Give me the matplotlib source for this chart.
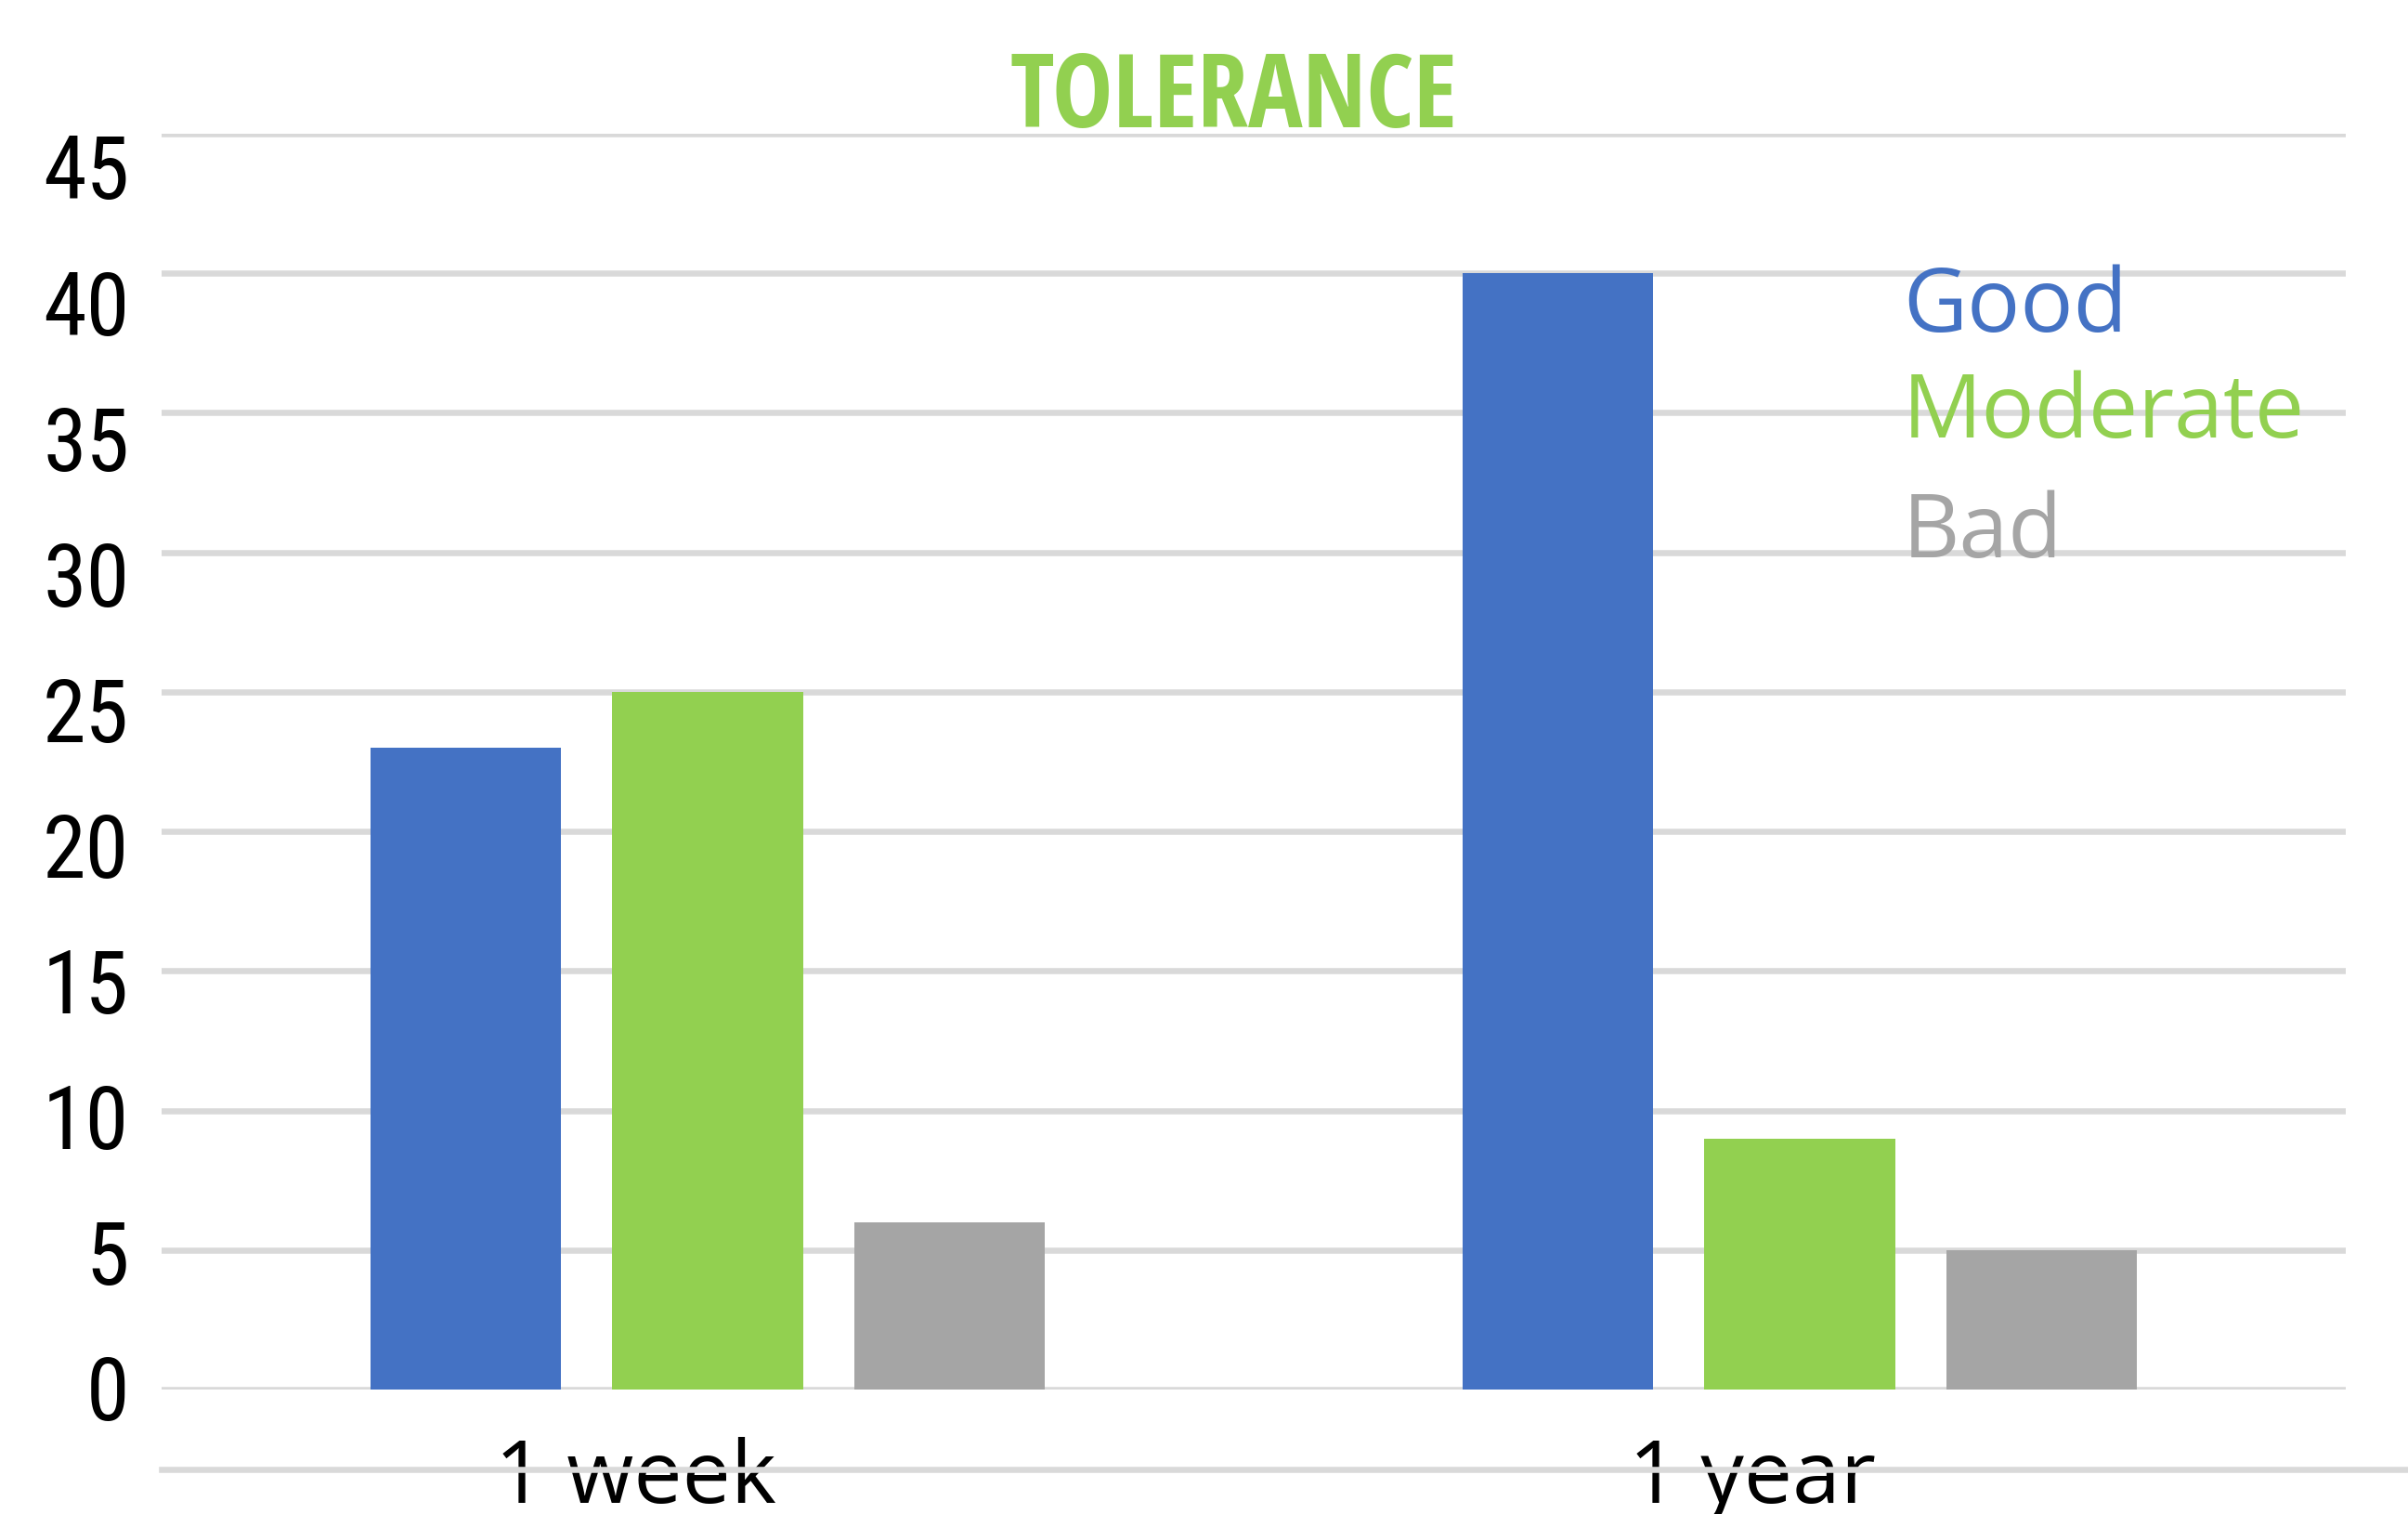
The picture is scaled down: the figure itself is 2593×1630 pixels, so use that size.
import matplotlib
matplotlib.use('Agg')
import matplotlib.pyplot as plt
from matplotlib.lines import Line2D
import numpy as np

# chart data
categories = ['1 week', '1 year']
series = ['Good', 'Moderate', 'Bad']
good = [23, 40]
moderate = [25, 9]
bad = [6, 5]
yticks = [0, 5, 10, 15, 20, 25, 30, 35, 40, 45]

colors = ['#4472C4', '#92D050', '#A5A5A5']
gridColor = '#D9D9D9'

W, H = 2593, 1630
fig = plt.figure(figsize=(W / 100, H / 100), dpi=100)
ax = fig.add_axes([174 / W, 1 - 1496 / H, (2526 - 174) / W, (1496 - 144) / H])

x = np.arange(len(categories))
barWidth = 0.1747
step = 0.2216
for i, vals in enumerate([good, moderate, bad]):
    ax.bar(x + (i - 1) * step, vals, width=barWidth, color=colors[i], zorder=3)

ax.set_xlim(-0.5, 1.5)
ax.set_ylim(0, 45)
ax.set_yticks(yticks)
ax.yaxis.grid(True, color=gridColor, linewidth=4.7, zorder=0)
ax.tick_params(axis='y', length=0, labelleft=False)
for s in ax.spines.values():
    s.set_visible(False)

# category labels sit a little left of the bar groups in the original
ax.set_xticks(x + np.array([-0.066, -0.043]))
ax.set_xticklabels(categories, fontfamily='Open Sans', fontsize=67, color='#000000')
ax.tick_params(axis='x', length=0, pad=37)

# y labels are spaced slightly tighter than the gridlines in the original
sec = ax.secondary_yaxis('left', functions=(lambda y: (y - 0.0666) / 0.9727,
                                            lambda v: v * 0.9727 + 0.0666))
sec.set_yticks(yticks)
sec.set_yticklabels([str(v) for v in yticks], fontfamily='Roboto Condensed', fontweight='normal',
                    fontsize=68, color='#000000')
sec.tick_params(length=0, pad=25)
for s in sec.spines.values():
    s.set_visible(False)

# stray gridline under the category labels
fig.add_artist(Line2D([174 / W, 1.0], [1 - 1582 / H] * 2, color=gridColor, linewidth=4.7))

fig.text(1328 / W, 1 - 137 / H, 'TOLERANCE', ha='center', va='baseline',
         fontfamily='Open Sans Condensed', fontweight='bold',
         fontsize=79, color='#92D050')

# legend drawn as coloured words
legendY = [357, 471, 600]
for name, c, yy in zip(series, colors, legendY):
    fig.text(2049 / W, 1 - yy / H, name, ha='left', va='baseline',
             fontfamily='Open Sans', fontsize=68.5, color=c)

fig.savefig('out.png', dpi=100, facecolor='white')
